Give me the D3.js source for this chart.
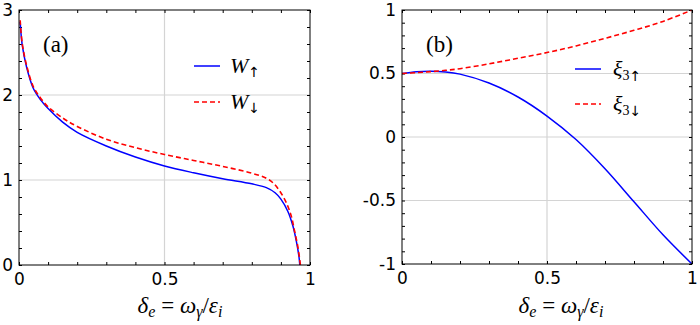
<!DOCTYPE html>
<html><head><meta charset="utf-8">
<script src="https://cdn.jsdelivr.net/npm/d3@7"></script>
<style>
html,body{margin:0;padding:0;background:#fff;}
svg{display:block;}
.tick text{font-family:"DejaVu Sans",sans-serif;font-size:17px;fill:#000;}
</style></head>
<body><svg id="c" width="700" height="325"></svg>
<script>
// ---- data ----
const xTicks = [0, 0.5, 1];
const yTicksA = [0, 1, 2, 3];
const yTicksB = [-1, -0.5, 0, 0.5, 1];
const xTickLabels = ["0", "0.5", "1"];
const yTickLabelsB = ["-1", "-0.5", "0", "0.5", "1"];

const wUpX = [0.004, 0.011, 0.026, 0.049, 0.075, 0.1, 0.15, 0.2, 0.3, 0.4, 0.5, 0.6, 0.7, 0.8, 0.85, 0.88, 0.9, 0.924, 0.942, 0.953, 0.962, 0.965];
const wUpY = [2.86, 2.59, 2.33, 2.08, 1.94, 1.84, 1.68, 1.56, 1.40, 1.27, 1.165, 1.085, 1.015, 0.955, 0.91, 0.85, 0.775, 0.63, 0.45, 0.28, 0.1, 0.0];
const wDnX = [0.004, 0.011, 0.026, 0.049, 0.075, 0.1, 0.15, 0.2, 0.3, 0.4, 0.5, 0.6, 0.7, 0.8, 0.85, 0.875, 0.896, 0.919, 0.936, 0.947, 0.959, 0.967];
const wDnY = [2.88, 2.61, 2.35, 2.10, 1.96, 1.86, 1.73, 1.63, 1.48, 1.38, 1.30, 1.23, 1.16, 1.08, 1.02, 0.96, 0.87, 0.73, 0.57, 0.40, 0.2, 0.0];

const xiX = [0, 0.05, 0.1, 0.15, 0.2, 0.3, 0.4, 0.5, 0.6, 0.7, 0.8, 0.9, 1.0];
const xiUpY = [0.50, 0.514, 0.518, 0.512, 0.495, 0.425, 0.315, 0.165, -0.02, -0.25, -0.51, -0.77, -1.0];
const xiDnY = [0.50, 0.507, 0.515, 0.525, 0.538, 0.576, 0.62, 0.665, 0.717, 0.777, 0.84, 0.91, 1.0];

const svg = d3.select("#c");
const BLUE = "#0000ff", RED = "#ff0000";

function panel(cfg) {
  const g = svg.append("g");
  const x = d3.scaleLinear().domain([0, 1]).range([cfg.x0, cfg.x1]);
  const y = d3.scaleLinear().domain(cfg.yDom).range([cfg.y1, cfg.y0]);
  const id = "clip" + cfg.name;
  svg.append("clipPath").attr("id", id).append("rect")
    .attr("x", cfg.x0).attr("y", cfg.y0).attr("width", cfg.x1 - cfg.x0).attr("height", cfg.y1 - cfg.y0);

  // grid
  g.append("g").selectAll("line").data(xTicks.filter(v => v > 0 && v < 1)).join("line")
    .attr("x1", d => x(d)).attr("x2", d => x(d)).attr("y1", cfg.y0).attr("y2", cfg.y1)
    .attr("stroke", "#d4d4d4").attr("stroke-width", 1.2);
  g.append("g").selectAll("line").data(cfg.yTicks.filter(v => v > cfg.yDom[0] && v < cfg.yDom[1])).join("line")
    .attr("y1", d => y(d)).attr("y2", d => y(d)).attr("x1", cfg.x0).attr("x2", cfg.x1)
    .attr("stroke", "#d4d4d4").attr("stroke-width", 1.2);

  // minor inward ticks on all sides
  const xm = d3.range(0, 11).map(i => i / 10);
  const ym = d3.range(0, Math.round((cfg.yDom[1] - cfg.yDom[0]) / cfg.yStep) + 1).map(i => +(cfg.yDom[0] + i * cfg.yStep).toFixed(3));
  const tk = (axis, tr) => { const a = g.append("g").attr("transform", tr).call(axis); a.select(".domain").remove(); a.selectAll("line").attr("stroke", "#000"); return a; };
  tk(d3.axisBottom(x).tickValues(xm).tickSize(-3).tickFormat(""), `translate(0,${cfg.y1})`);
  tk(d3.axisTop(x).tickValues(xm).tickSize(-3).tickFormat(""), `translate(0,${cfg.y0})`);
  tk(d3.axisLeft(y).tickValues(ym).tickSize(-3).tickFormat(""), `translate(${cfg.x0},0)`);
  tk(d3.axisRight(y).tickValues(ym).tickSize(-3).tickFormat(""), `translate(${cfg.x1},0)`);

  // labels
  const lx = g.append("g").attr("transform", `translate(0,${cfg.y1})`)
    .call(d3.axisBottom(x).tickValues(xTicks).tickSize(0).tickPadding(8).tickFormat((d, i) => xTickLabels[i]));
  lx.select(".domain").remove();
  const ly = g.append("g").attr("transform", `translate(${cfg.x0},0)`)
    .call(d3.axisLeft(y).tickValues(cfg.yTicks).tickSize(0).tickPadding(cfg.ypad).tickFormat((d, i) => cfg.yLabels[i]));
  ly.select(".domain").remove();

  // lines
  const line = d3.line().x(d => x(d[0])).y(d => y(d[1])).curve(d3.curveCatmullRom.alpha(0.5));
  const cg = g.append("g").attr("clip-path", `url(#${id})`);
  cg.append("path").attr("d", line(cfg.s1)).attr("fill", "none").attr("stroke", BLUE).attr("stroke-width", 1.5);
  cg.append("path").attr("d", line(cfg.s2)).attr("fill", "none").attr("stroke", RED).attr("stroke-width", 1.6).attr("stroke-dasharray", "5,3");

  // box
  g.append("rect").attr("x", cfg.x0).attr("y", cfg.y0).attr("width", cfg.x1 - cfg.x0).attr("height", cfg.y1 - cfg.y0)
    .attr("fill", "none").attr("stroke", "#000").attr("stroke-width", 1);

  // panel label
  g.append("text").attr("x", cfg.x0 + 24).attr("y", 52).text(cfg.label)
    .attr("font-family", "Liberation Serif, serif").attr("font-size", 23);

  // legend
  const L = cfg.leg;
  g.append("line").attr("x1", L.x).attr("x2", L.x + 26).attr("y1", L.y1).attr("y2", L.y1).attr("stroke", BLUE).attr("stroke-width", 1.5);
  g.append("line").attr("x1", L.x).attr("x2", L.x + 26).attr("y1", L.y2).attr("y2", L.y2).attr("stroke", RED).attr("stroke-width", 1.6).attr("stroke-dasharray", "5,3");
  const lt = (yy, num, arrow) => {
    const t = g.append("text").attr("x", L.x + L.tx).attr("y", yy).attr("font-family", "Liberation Serif, serif").attr("font-size", 22);
    t.append("tspan").attr("font-style", "italic").text(L.sym);
    let dy = 0;
    if (num) { t.append("tspan").attr("font-size", 14).attr("dy", 4).text(num); dy = 1; }
    else dy = 4;
    t.append("tspan").attr("font-family", "DejaVu Sans, sans-serif").attr("font-size", 14).attr("dy", dy).text(arrow);
  };
  lt(L.y1 + 7, L.num, "↑");
  lt(L.y2 + 7, L.num, "↓");

  // x-axis title
  const t = g.append("text").attr("x", cfg.titleX).attr("y", 313).attr("text-anchor", "middle")
    .attr("font-family", "Liberation Serif, serif").attr("font-size", 23);
  const parts = [["δ", 1, 0], ["e", 1, 1], [" = ", 0, 0], ["ω", 1, 0], ["γ", 1, 1], ["/", 0, 0], ["ε", 1, 0], ["i", 1, 1]];
  let sub = false;
  parts.forEach(([s, it, sb]) => {
    const sp = t.append("tspan").text(s).attr("font-style", it ? "italic" : "normal");
    if (sb) { sp.attr("font-size", 16).attr("dy", 4); sub = true; }
    else if (sub) { sp.attr("dy", -4); sub = false; }
  });
}

panel({
  name: "a", x0: 19, x1: 310, y0: 10, y1: 265, yDom: [0, 3], yStep: 0.2,
  yTicks: yTicksA, yLabels: yTicksA.map(String), ypad: 6,
  s1: wUpX.map((v, i) => [v, wUpY[i]]), s2: wDnX.map((v, i) => [v, wDnY[i]]),
  label: "(a)", titleX: 180,
  leg: { x: 194, y1: 66, y2: 102, tx: 36, sym: "W", num: "" }
});
panel({
  name: "b", x0: 402, x1: 692, y0: 10, y1: 264, yDom: [-1, 1], yStep: 0.1,
  yTicks: yTicksB, yLabels: yTickLabelsB, ypad: 6,
  s1: xiX.map((v, i) => [v, xiUpY[i]]), s2: xiX.map((v, i) => [v, xiDnY[i]]),
  label: "(b)", titleX: 561,
  leg: { x: 575, y1: 69, y2: 104, tx: 38, sym: "ξ", num: "3" }
});
</script></body></html>
